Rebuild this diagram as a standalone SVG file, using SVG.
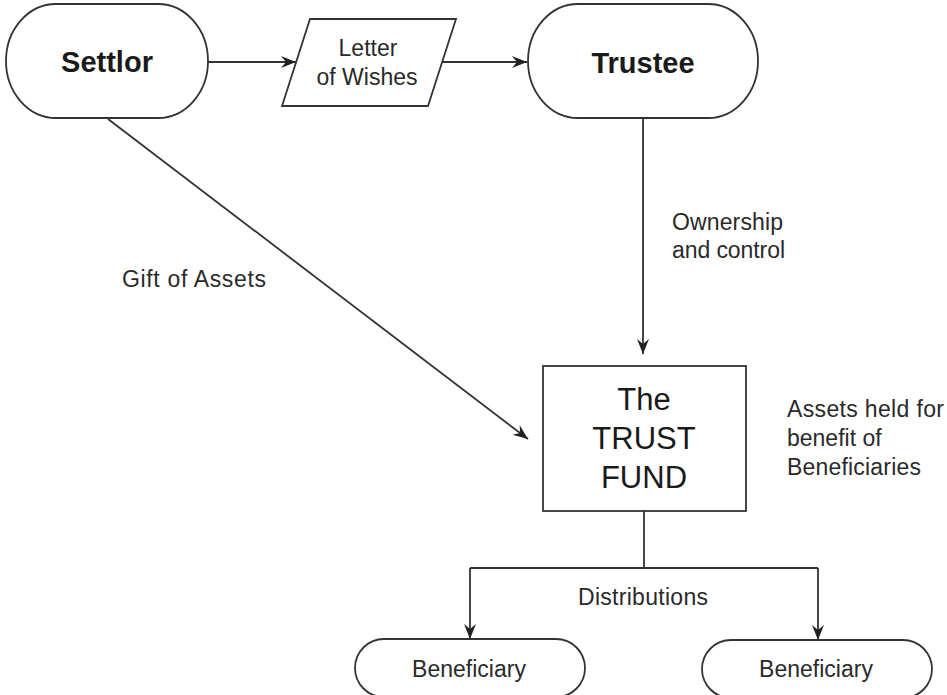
<svg xmlns="http://www.w3.org/2000/svg" width="947" height="695" viewBox="0 0 947 695">
<style>
.shape{fill:#fff;stroke:#333;stroke-width:1.8}
.conn{fill:none;stroke:#333;stroke-width:1.8}
.big{font-family:"Liberation Sans",Arial,sans-serif;font-weight:bold;font-size:29px;fill:#1a1a1a;text-anchor:middle}
.fund{font-family:"Liberation Sans",Arial,sans-serif;font-size:31px;fill:#1a1a1a;text-anchor:middle}
.lbl{font-family:"Liberation Sans",Arial,sans-serif;font-size:23px;fill:#2a2a2a}
.mid{text-anchor:middle}
</style>
<defs>
<marker id="arr" markerUnits="userSpaceOnUse" markerWidth="20" markerHeight="16" viewBox="-16 -8 18 16" refX="0" refY="0" orient="auto">
<path d="M0,0 L-15,-6 L-10,0 L-15,6 Z" fill="#222"/>
</marker>
</defs>
<g id="connectors">
<line class="conn" x1="208" y1="62" x2="296" y2="62" marker-end="url(#arr)"/>
<line class="conn" x1="442" y1="62" x2="527" y2="62" marker-end="url(#arr)"/>
<line class="conn" x1="643" y1="118" x2="643" y2="354" marker-end="url(#arr)"/>
<line class="conn" x1="108" y1="119" x2="528" y2="439" marker-end="url(#arr)"/>
<polyline class="conn" points="644,511 644,568"/>
<polyline class="conn" points="470,568 818,568"/>
<line class="conn" x1="470" y1="568" x2="470" y2="639" marker-end="url(#arr)"/>
<line class="conn" x1="818" y1="568" x2="818" y2="640" marker-end="url(#arr)"/>
<text class="lbl" x="672" y="230" textLength="111">Ownership</text>
<text class="lbl" x="672" y="258" textLength="113">and control</text>
<text class="lbl" x="122" y="287" textLength="144">Gift of Assets</text>
<text class="lbl" x="578" y="605" textLength="130">Distributions</text>
</g>
<g id="settlor">
<rect class="shape" x="6" y="4" width="202" height="114" rx="50" ry="57"/>
<text class="big" x="107" y="72">Settlor</text>
</g>
<g id="letter">
<polygon class="shape" points="310,19 456,19 428,106 282,106"/>
<text class="lbl mid" x="368" y="56">Letter</text>
<text class="lbl mid" x="367" y="85">of Wishes</text>
</g>
<g id="trustee">
<rect class="shape" x="528" y="4" width="230" height="114" rx="50" ry="57"/>
<text class="big" x="643" y="73">Trustee</text>
</g>
<g id="trustfund">
<rect class="shape" x="543" y="366" width="203" height="145"/>
<text class="fund" x="644" y="410">The</text>
<text class="fund" x="644" y="449">TRUST</text>
<text class="fund" x="644" y="488">FUND</text>
<text class="lbl" x="787" y="417" textLength="157">Assets held for</text>
<text class="lbl" x="787" y="446">benefit of</text>
<text class="lbl" x="787" y="475" textLength="134">Beneficiaries</text>
</g>
<g id="beneficiary1">
<rect class="shape" x="355" y="639" width="230" height="58" rx="29" ry="29"/>
<text class="lbl mid" x="469" y="677">Beneficiary</text>
</g>
<g id="beneficiary2">
<rect class="shape" x="702" y="640" width="230" height="58" rx="29" ry="29"/>
<text class="lbl mid" x="816" y="677">Beneficiary</text>
</g>
</svg>
